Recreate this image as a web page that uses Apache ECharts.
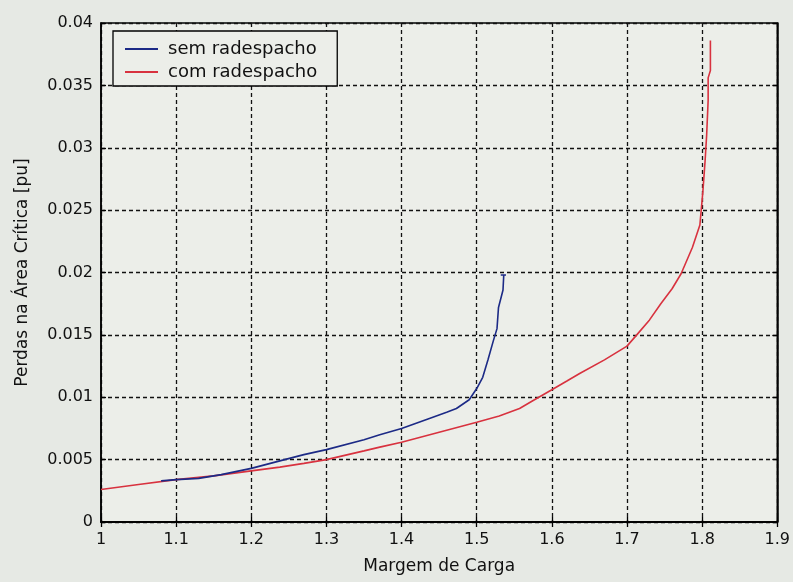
<!DOCTYPE html>
<html>
<head>
<meta charset="utf-8">
<script src="https://cdn.jsdelivr.net/npm/echarts@6/dist/echarts.min.js"></script>
<style>
  html, body { margin: 0; padding: 0; background: #e6e9e4; }
  #chart { width: 793px; height: 582px; }
</style>
</head>
<body>
<div id="chart"></div>
<script>
// Load margin (x) and critical-area losses in pu (y)
const semMargem = [1.08, 1.10, 1.13, 1.16, 1.20, 1.238, 1.27, 1.30, 1.35, 1.371, 1.40, 1.437, 1.46, 1.473, 1.49, 1.50, 1.508, 1.515, 1.522, 1.527, 1.529, 1.535, 1.536, 1.532, 1.539];
const semPerdas = [0.0033, 0.0034, 0.0035, 0.0038, 0.0043, 0.0049, 0.0054, 0.0058, 0.0066, 0.0070, 0.0075, 0.0083, 0.0088, 0.0091, 0.0098, 0.0107, 0.0116, 0.0130, 0.0145, 0.0155, 0.0172, 0.0186, 0.0198, 0.0198, 0.0198];

const comMargem = [1.00, 1.05, 1.10, 1.15, 1.20, 1.238, 1.27, 1.30, 1.35, 1.371, 1.40, 1.45, 1.50, 1.53, 1.557, 1.574, 1.60, 1.62, 1.637, 1.67, 1.70, 1.713, 1.73, 1.745, 1.76, 1.772, 1.787, 1.797, 1.801, 1.804, 1.806, 1.808, 1.808, 1.811, 1.811];
const comPerdas = [0.0026, 0.0030, 0.0034, 0.0037, 0.0041, 0.0044, 0.0047, 0.0050, 0.0057, 0.0060, 0.0064, 0.0072, 0.0080, 0.0085, 0.0091, 0.0097, 0.0106, 0.0113, 0.0119, 0.0130, 0.0141, 0.0150, 0.0162, 0.0175, 0.0187, 0.0199, 0.0220, 0.0238, 0.0265, 0.0290, 0.0310, 0.0338, 0.0356, 0.0362, 0.0386];

const seriesNames = ['sem radespacho', 'com radespacho'];
const xTitle = 'Margem de Carga';
const yTitle = 'Perdas na Área Crítica [pu]';

const pairs = (xs, ys) => xs.map((x, i) => [x, ys[i]]);

const font = 'DejaVu Sans';
const gridLine = { show: true, lineStyle: { color: '#111', width: 1.3, type: [4, 3] } };
const boxAxisLine = { show: true, lineStyle: { color: '#000', width: 1.5 } };
const innerTick = { show: true, inside: true, length: 5, lineStyle: { color: '#000', width: 1.3 } };

const chart = echarts.init(document.getElementById('chart'), null, { renderer: 'canvas' });
chart.setOption({
  backgroundColor: '#e6e9e4',
  animation: false,
  grid: {
    left: 101, right: 15, top: 23, bottom: 60,
    show: true, backgroundColor: '#eceee9', borderColor: '#000', borderWidth: 1.5
  },
  legend: {
    orient: 'vertical',
    left: 113, top: 31,
    padding: [9, 20, 5, 11],
    itemGap: 5,
    itemWidth: 33, itemHeight: 16,
    borderColor: '#000', borderWidth: 1.3,
    backgroundColor: '#eceee9',
    itemStyle: { opacity: 0 },
    textStyle: { fontFamily: font, fontSize: 18, color: '#111', padding: [0, 0, 0, 5] },
    data: seriesNames
  },
  xAxis: [{
    type: 'value', min: 1, max: 1.9, interval: 0.1,
    name: xTitle, nameLocation: 'middle', nameGap: 36,
    nameTextStyle: { fontFamily: font, fontSize: 17, color: '#111' },
    axisLine: boxAxisLine, axisTick: innerTick,
    axisLabel: { fontFamily: font, fontSize: 16, color: '#111', margin: 10 },
    splitLine: gridLine
  }, {
    type: 'value', position: 'top', min: 1, max: 1.9, interval: 0.1,
    axisLine: boxAxisLine, axisTick: innerTick, axisLabel: { show: false }, splitLine: { show: false }
  }],
  yAxis: [{
    type: 'value', min: 0, max: 0.04, interval: 0.005,
    name: yTitle, nameLocation: 'middle', nameGap: 70, nameRotate: 90,
    nameTextStyle: { fontFamily: font, fontSize: 17, color: '#111' },
    axisLine: boxAxisLine, axisTick: innerTick,
    axisLabel: { fontFamily: font, fontSize: 16, color: '#111', margin: 8 },
    splitLine: gridLine
  }, {
    type: 'value', position: 'right', min: 0, max: 0.04, interval: 0.005,
    axisLine: boxAxisLine, axisTick: innerTick, axisLabel: { show: false }, splitLine: { show: false }
  }],
  series: [{
    name: seriesNames[0], type: 'line', showSymbol: false, symbol: 'none',
    data: pairs(semMargem, semPerdas),
    lineStyle: { color: '#1c2a86', width: 1.6 }, itemStyle: { color: '#1c2a86' }, z: 3
  }, {
    name: seriesNames[1], type: 'line', showSymbol: false, symbol: 'none',
    data: pairs(comMargem, comPerdas),
    lineStyle: { color: '#d8323f', width: 1.6 }, itemStyle: { color: '#d8323f' }, z: 2
  }]
});
</script>
</body>
</html>
